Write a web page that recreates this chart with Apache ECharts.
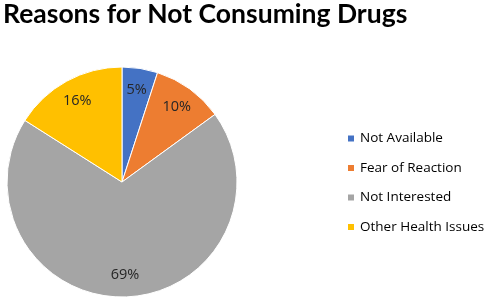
<!DOCTYPE html>
<html>
<head>
<meta charset="utf-8">
<script src="https://cdn.jsdelivr.net/npm/echarts@6/dist/echarts.min.js"></script>
<style>
  html, body { margin: 0; padding: 0; background: #fff; }
  #main { width: 484px; height: 297px; }
</style>
</head>
<body>
<div id="main"></div>
<script>
// 数据
const categories = ['Not Available', 'Fear of Reaction', 'Not Interested', 'Other Health Issues']
const values = [5, 10, 69, 16]
const colors = ['#4472C4', '#ED7D31', '#A5A5A5', '#FFC000']

const pieData = categories.map((name, i) => ({ name: name, value: values[i] }))

const chart = echarts.init(document.getElementById('main'))

const option = {
    color: colors,
    animation: false,
    //标题
    title: {
        text: 'Reasons for Not Consuming Drugs',
        left: -2,
        top: -4,
        textStyle: {
            fontFamily: 'Lato',
            fontWeight: 'bold',
            fontSize: 26.5,
            color: '#000'
        }
    },
    //图例
    legend: {
        data: categories,
        orient: 'vertical',
        left: 341,
        top: 126,
        itemWidth: 8,
        itemHeight: 8,
        itemGap: 14.5,
        icon: 'rect',
        textStyle: {
            fontFamily: 'Open Sans',
            fontSize: 13.5,
            lineHeight: 15,
            color: '#000'
        }
    },
    series: [
        {
            // 真正的饼图
            name: 'pie',
            type: 'pie',
            center: [122, 182],
            radius: [0, 115],
            startAngle: 90,
            clockwise: true,
            silent: true,
            itemStyle: { borderColor: '#fff', borderWidth: 1 },
            label: { show: false },
            labelLine: { show: false },
            data: pieData
        },
        {
            // 透明的饼图 只用来放标签（标签在半径约 0.78 处）
            name: 'labels',
            type: 'pie',
            center: [122, 182],
            radius: [0, 180],
            startAngle: 90,
            clockwise: true,
            silent: true,
            itemStyle: { color: 'rgba(0,0,0,0)' },
            label: {
                show: true,
                position: 'inside',
                formatter: '{c}%',
                fontFamily: 'Open Sans',
                fontSize: 14.5,
                color: '#262626'
            },
            labelLine: { show: false },
            data: pieData
        }
    ]
}

chart.setOption(option)
</script>
</body>
</html>
